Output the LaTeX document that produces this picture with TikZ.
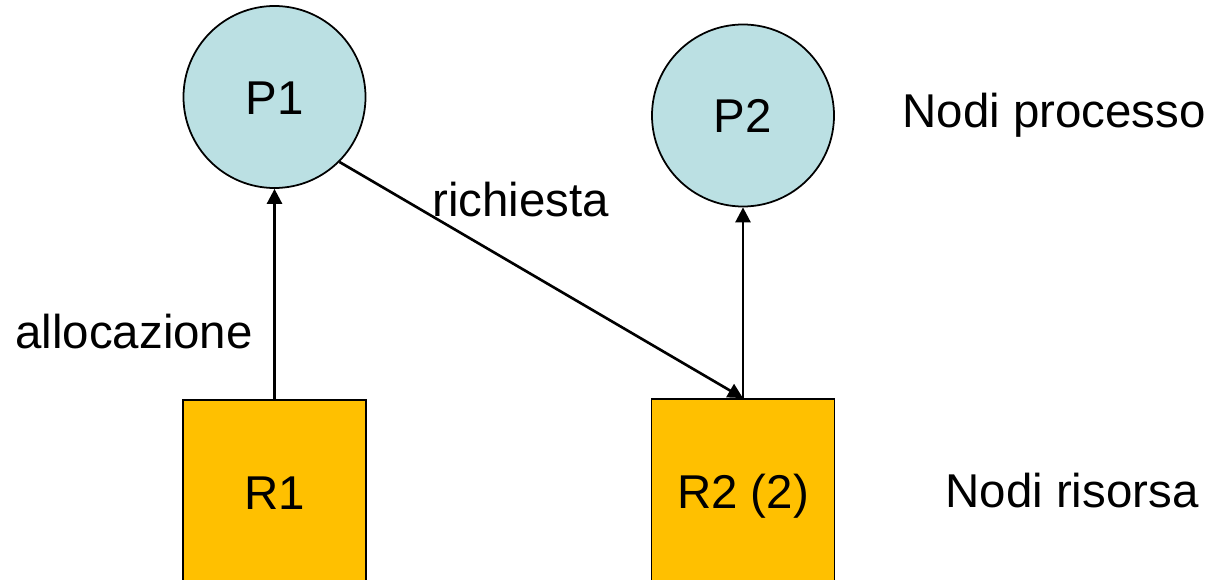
\documentclass[tikz,border=0pt]{standalone}
\usepackage{fontspec}
\setmainfont{Liberation Sans}
\usepackage{tikz}
\usetikzlibrary{arrows.meta, positioning, shapes}
\definecolor{procblue}{RGB}{187, 224, 227}
\definecolor{resgold}{RGB}{255, 192, 0}

\begin{document}
\begin{tikzpicture}[
    proc/.style={circle, draw, line width=1pt, fill=procblue, minimum size=3.64cm, inner sep=0pt, text height=0.72em, text depth=0pt},
    res/.style={rectangle, draw, line width=1pt, fill=resgold, minimum width=3.66cm, minimum height=3.7cm, inner sep=0pt, text height=0.72em, text depth=0pt},
    lbl/.style={anchor=base west, inner sep=0pt},
    arrow/.style={-{Triangle[length=0.3cm, width=0.3cm]}, line width=1.5pt}
]
    \useasboundingbox (0, 0) rectangle (24.2, -11.58);
    \fontsize{27}{32}\selectfont

    % Processi
    \node[proc] (p1) at (5.49, -1.94) {P1};
    \node[proc] (p2) at (14.86, -2.31) {P2};

    % Risorse
    \node[res] (r1) at (5.49, -9.85) {R1};
    \node[res] (r2) at (14.86, -9.83) {R2 (2)};

    % Legenda
    \node[lbl] (leg_proc) at (18.04, -2.55) {Nodi processo};
    \node[lbl] (leg_res) at (18.9, -10.14) {Nodi risorsa};

    % Archi
    \draw[arrow] (r1) -- (p1);
    \draw[arrow] (r2) -- (p2);
    \draw[arrow] (p1.-45) -- (r2.north);

    % Etichette archi
    \node[lbl] (lbl_rich) at (8.64, -4.33) {richiesta};
    \node[lbl] (lbl_alloc) at (0.3, -6.96) {allocazione};
\end{tikzpicture}
\end{document}
